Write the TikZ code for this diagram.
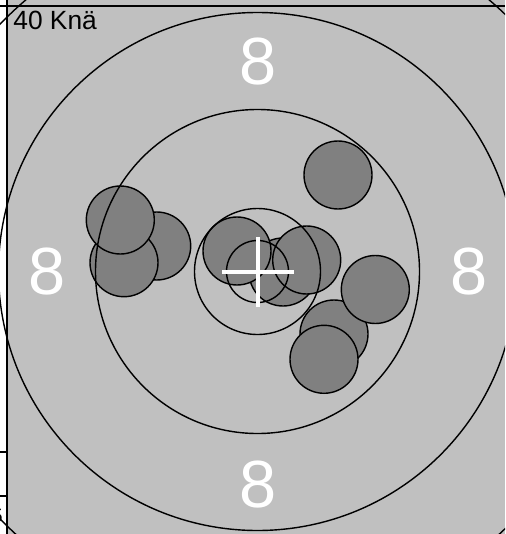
\documentclass[tikz,border=0pt]{standalone}
\usepackage{fontspec}
\setmainfont{Liberation Sans}
\usetikzlibrary{positioning}
\definecolor{targetgray}{RGB}{192,192,192}
\definecolor{holegray}{RGB}{128,128,128}

\begin{document}
\begin{tikzpicture}[
        x=0.02cm, y=-0.02cm,
        ring/.style={draw=black, line width=0.8pt},
        hole/.style={fill=holegray, draw=black, line width=0.8pt},
        frameline/.style={draw=black, line width=0.8pt},
        ringnum/.style={text=white, font=\fontsize{38}{38}\selectfont, inner sep=0pt},
        crossline/.style={draw=white, line width=2.3pt},
    ]
        \useasboundingbox (0,0) rectangle (505,534);
        \clip (0,0) rectangle (505,534);
        \fill[targetgray] (7,0) rectangle (505,534);

        % hits
        \foreach \hx/\hy in {156.7/246, 124/262.7, 120.3/220, 338/175, 283/272, 237/251, 306.7/260, 334/334, 375.3/289.5, 324/359.3}
            \draw[hole] (\hx,\hy) circle (34);

        % rings
        \coordinate (centre) at (257.5,271.5);
        \foreach \r in {31,63,162,259,357}
            \draw[ring] (centre) circle (\r);

        % frame
        \draw[frameline] (0,6) -- (505,6);
        \draw[frameline] (7,0) -- (7,534);
        \draw[frameline] (0,452) -- (7,452);
        \draw[frameline] (0,496) -- (7,496);
        \node[anchor=base east, inner sep=0pt, font=\fontsize{11}{11}\selectfont] (sidenum) at (3,522) {5};

        % aim cross
        \coordinate (aim) at (258,272);
        \draw[crossline] ([xshift=-36*0.02cm]aim) -- ([xshift=36*0.02cm]aim);
        \draw[crossline] ([yshift=35*0.02cm]aim) -- ([yshift=-35*0.02cm]aim);

        \node[ringnum] (topnum) at (258,62) {8};
        \node[ringnum] (bottomnum) at (258,484.5) {8};
        \node[ringnum] (leftnum) at (47.5,272) {8};
        \node[ringnum] (rightnum) at (469,272) {8};

        \node[anchor=base west, inner sep=0pt, font=\fontsize{15}{15}\selectfont] (label) at (13,29.5) {40 Knä};
    \end{tikzpicture}
\end{document}
